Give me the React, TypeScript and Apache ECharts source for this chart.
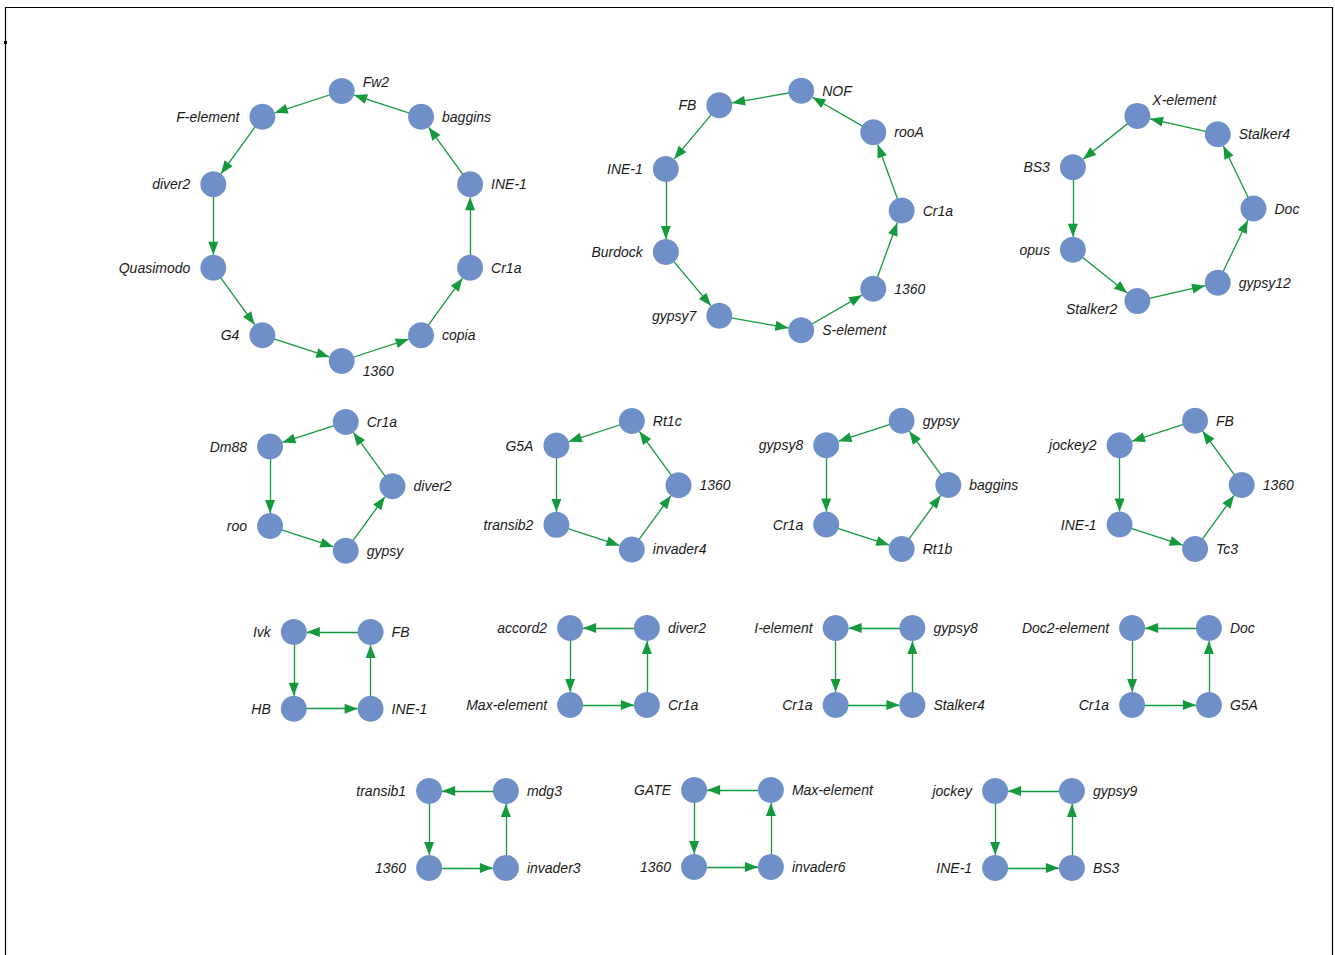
import React, { useEffect, useRef } from "react";
import * as echarts from "echarts";

// Each cycle: node names in edge order (each node points to the next, last points to first)
const cycleA = ["Fw2", "F-element", "diver2", "Quasimodo", "G4", "1360", "copia", "Cr1a", "INE-1", "baggins"];
const cycleB = ["NOF", "FB", "INE-1", "Burdock", "gypsy7", "S-element", "1360", "Cr1a", "rooA"];
const cycleC = ["X-element", "BS3", "opus", "Stalker2", "gypsy12", "Doc", "Stalker4"];
const cycleD = ["Cr1a", "Dm88", "roo", "gypsy", "diver2"];
const cycleE = ["Rt1c", "G5A", "transib2", "invader4", "1360"];
const cycleF = ["gypsy", "gypsy8", "Cr1a", "Rt1b", "baggins"];
const cycleG = ["FB", "jockey2", "INE-1", "Tc3", "1360"];
const cycleH = ["FB", "Ivk", "HB", "INE-1"];
const cycleI = ["diver2", "accord2", "Max-element", "Cr1a"];
const cycleJ = ["gypsy8", "I-element", "Cr1a", "Stalker4"];
const cycleK = ["Doc", "Doc2-element", "Cr1a", "G5A"];
const cycleL = ["mdg3", "transib1", "1360", "invader3"];
const cycleM = ["Max-element", "GATE", "1360", "invader6"];
const cycleN = ["gypsy9", "jockey", "INE-1", "BS3"];

const cycles = [cycleA, cycleB, cycleC, cycleD, cycleE, cycleF, cycleG, cycleH, cycleI, cycleJ, cycleK, cycleL, cycleM, cycleN];

// Layout geometry of each cycle (circular placement): center, radius, angle of first node
const cycleGeometry = [
  { cx: 341.7, cy: 226, r: 135, start: -90 },
  { cx: 780.1, cy: 210.5, r: 121.6, start: -80 },
  { cx: 1158.5, cy: 208.5, r: 95, start: -720 / 7 },
  { cx: 324.8, cy: 486.3, r: 67.7, start: -72 },
  { cx: 611, cy: 485.2, r: 67.5, start: -72 },
  { cx: 880.8, cy: 484.9, r: 67.5, start: -72 },
  { cx: 1174.2, cy: 484.9, r: 67.5, start: -72 },
  { cx: 332.2, cy: 670.3, r: 54.3, start: -45 },
  { cx: 608.5, cy: 666.5, r: 54.3, start: -45 },
  { cx: 874, cy: 666.5, r: 54.3, start: -45 },
  { cx: 1170.5, cy: 666.5, r: 54.3, start: -45 },
  { cx: 467.5, cy: 829.5, r: 54.3, start: -45 },
  { cx: 732.5, cy: 828.5, r: 54.3, start: -45 },
  { cx: 1033.5, cy: 829.5, r: 54.3, start: -45 },
];

// Label placement codes per node
const labelSides = [
  ["tr", "l", "l", "l", "l", "br", "r", "r", "r", "r"],
  ["r", "l", "l", "l", "l", "r", "r", "r", "r"],
  ["tx", "l", "l", "bl", "r", "r", "r"],
  ["r", "l", "l", "r", "r"],
  ["r", "l", "l", "r", "r"],
  ["r", "l", "l", "r", "r"],
  ["r", "l", "l", "r", "r"],
  ["r", "l", "l", "r"],
  ["r", "l", "l", "r"],
  ["r", "l", "l", "r"],
  ["r", "l", "l", "r"],
  ["r", "l", "l", "r"],
  ["r", "l", "l", "r"],
  ["r", "l", "l", "r"],
];

const labelStyles: Record<string, any> = {
  r: { position: "right", distance: 8 },
  l: { position: "left", distance: 10 },
  tr: { position: "right", distance: 8, offset: [0, -9] },
  br: { position: "right", distance: 8, offset: [0, 10] },
  bl: { position: "left", distance: 7, offset: [0, 8] },
  tx: { position: "right", distance: 2, offset: [0, -16] },
};

const NODE_COLOR = "#6e8fc8";
const EDGE_COLOR = "#14993c";
// Arrowhead whose tip sits at the centre of its box, so the tip lands on the node boundary
const ARROW = "path://M0,0M5,13L10,26L0,26Z";

export default function App() {
  const ref = useRef<HTMLDivElement>(null);
  useEffect(() => {
    document.body.style.margin = "0";
    if (!ref.current) return;
    const chart = echarts.init(ref.current, undefined, { renderer: "svg" });

    const nodes: any[] = [];
    const links: any[] = [];
    cycles.forEach((names, ci) => {
      const g = cycleGeometry[ci];
      const n = names.length;
      const step = 360 / n;
      names.forEach((name, k) => {
        const a = ((g.start - k * step) * Math.PI) / 180;
        nodes.push({
          id: `c${ci}-${k}`,
          name,
          value: [g.cx + g.r * Math.cos(a), g.cy + g.r * Math.sin(a)],
          label: { show: true, ...labelStyles[labelSides[ci][k]] },
        });
        links.push({ source: `c${ci}-${k}`, target: `c${ci}-${(k + 1) % n}` });
      });
    });

    chart.setOption({
      animation: false,
      backgroundColor: "#ffffff",
      grid: { left: 0, right: 0, top: 0, bottom: 0, containLabel: false },
      xAxis: { type: "value", min: 0, max: 1335, show: false },
      yAxis: { type: "value", min: 0, max: 955, inverse: true, show: false },
      graphic: [
        {
          type: "rect",
          shape: { x: 5.5, y: 7.5, width: 1327, height: 980 },
          style: { fill: "none", stroke: "#000", lineWidth: 1.2 },
          silent: true,
        },
        {
          type: "rect",
          shape: { x: 4, y: 41, width: 3, height: 3 },
          style: { fill: "#000" },
          silent: true,
        },
      ],
      series: [
        {
          type: "graph",
          coordinateSystem: "cartesian2d",
          layout: "none",
          symbol: "circle",
          symbolSize: 26,
          itemStyle: { color: NODE_COLOR, borderWidth: 0 },
          edgeSymbol: ["none", ARROW],
          edgeSymbolSize: [10, [10, 26]],
          lineStyle: { color: EDGE_COLOR, width: 1.3, opacity: 1, curveness: 0 },
          label: {
            show: true,
            fontStyle: "italic",
            fontSize: 14,
            fontFamily: "Liberation Sans, Arial, sans-serif",
            color: "#1a1a1a",
            formatter: "{b}",
          },
          emphasis: { disabled: true },
          data: nodes,
          links,
        },
      ],
    });
    return () => chart.dispose();
  }, []);
  return <div ref={ref} style={{ width: 1335, height: 955 }} />;
}
